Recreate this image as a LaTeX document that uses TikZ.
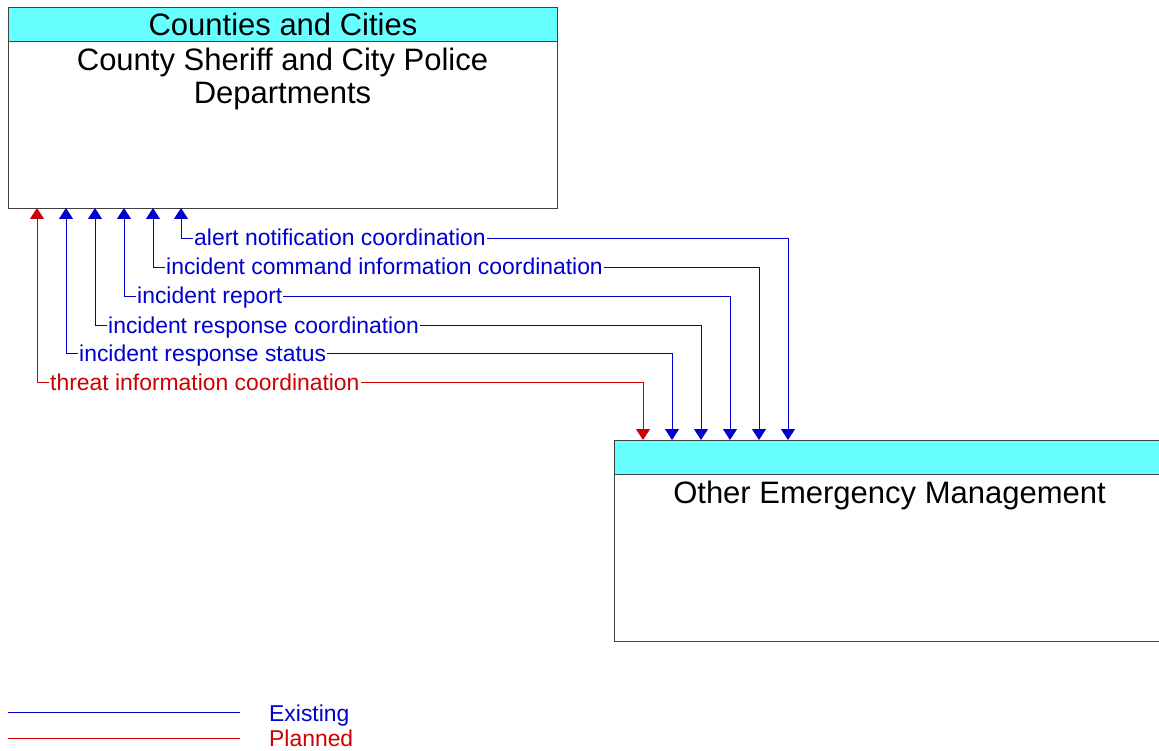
\documentclass[tikz,border=0pt]{standalone}
\usepackage{fontspec}
\setmainfont{Liberation Sans}
\usetikzlibrary{arrows.meta}
\definecolor{flowblue}{RGB}{0,0,204}
\definecolor{flowred}{RGB}{204,0,0}
\definecolor{headcyan}{RGB}{102,255,255}
\tikzset{flowtip/.tip={Triangle[width=14pt,length=11pt]}}
\begin{document}
\begin{tikzpicture}[x=1pt,y=-1pt,
  boxframe/.style={draw=black!75, line width=1pt, anchor=north west, inner sep=0pt},
  boxhead/.style={boxframe, fill=headcyan, font=\fontsize{31}{33}\selectfont},
  boxtext/.style={font=\fontsize{31}{33}\selectfont, align=center, inner sep=0pt},
  existing/.style={draw=flowblue, line width=0.9pt, flowtip-flowtip},
  planned/.style={draw=flowred, line width=0.9pt, flowtip-flowtip},
  flowlabel/.style={font=\fontsize{22.9}{25}\selectfont, inner xsep=1pt, inner ysep=2pt, fill=white, anchor=base west},
  legendline/.style={line width=0.9pt},
  legendtext/.style={font=\fontsize{22.9}{25}\selectfont, inner sep=0pt, anchor=base west}
]
\useasboundingbox (0,0) rectangle (1159,751);

% Counties and Cities element
\node[boxframe, minimum width=549pt, minimum height=201pt] (police) at (8,7) {};
\node[boxhead, minimum width=549pt, minimum height=34pt] (policehead) at (8,7) {Counties and Cities};
\node[boxtext, anchor=north] (policename) at (282.5,47.5) {County Sheriff and City Police\\Departments};

% Other Emergency Management element
\node[boxframe, minimum width=547pt, minimum height=201pt] (oem) at (614,440) {};
\node[boxhead, minimum width=547pt, minimum height=34pt] (oemhead) at (614,440) {};
\node[boxtext, anchor=base] (oemname) at (889.5,503) {Other Emergency Management};

% attachment points on the two elements
\foreach \i/\xt/\xb in {1/181/788, 2/153/759, 3/124/730, 4/95/701, 5/66/672, 6/37/643} {
  \coordinate (t\i) at (\xt,208);
  \coordinate (b\i) at (\xb,440);
}
% flow levels
\foreach \i/\yy in {1/238, 2/267, 3/296, 4/325, 5/353, 6/382} {
  \coordinate (lv\i) at (0,\yy);
}

% flows
\draw[existing] (t1) -- (t1 |- lv1) -- (b1 |- lv1) -- (b1);
\draw[existing] (t2) -- (t2 |- lv2) -- (b2 |- lv2) -- (b2);
\draw[existing] (t3) -- (t3 |- lv3) -- (b3 |- lv3) -- (b3);
\draw[existing] (t4) -- (t4 |- lv4) -- (b4 |- lv4) -- (b4);
\draw[existing] (t5) -- (t5 |- lv5) -- (b5 |- lv5) -- (b5);
\draw[planned]  (t6) -- (t6 |- lv6) -- (b6 |- lv6) -- (b6);

% flow labels
\node[flowlabel, text=flowblue] (f1) at (193,246) {alert notification coordination};
\node[flowlabel, text=flowblue] (f2) at (165,275) {incident command information coordination};
\node[flowlabel, text=flowblue] (f3) at (136,304) {incident report};
\node[flowlabel, text=flowblue] (f4) at (107,333) {incident response coordination};
\node[flowlabel, text=flowblue] (f5) at (78,361) {incident response status};
\node[flowlabel, text=flowred]  (f6) at (49,390) {threat information coordination};

% legend
\coordinate (e1) at (8,712);
\coordinate (e2) at (240,712);
\coordinate (p1) at (8,738);
\coordinate (p2) at (240,738);
\draw[legendline, flowblue] (e1) -- (e2);
\draw[legendline, flowred] (p1) -- (p2);
\node[legendtext, text=flowblue] (existingtext) at (269,721.5) {Existing};
\node[legendtext, text=flowred] (plannedtext) at (269,746.5) {Planned};
\end{tikzpicture}
\end{document}
